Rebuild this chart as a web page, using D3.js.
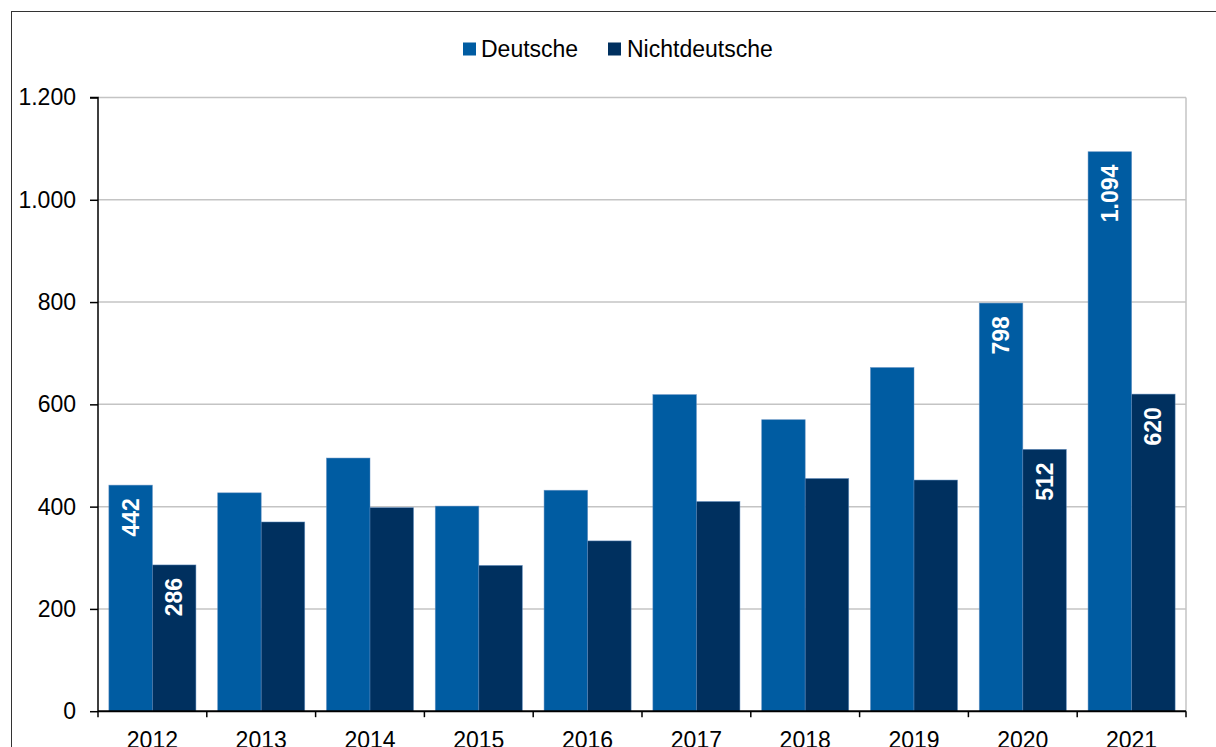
<!DOCTYPE html>
<html>
<head>
<meta charset="utf-8">
<script src="https://cdn.jsdelivr.net/npm/d3@7"></script>
<style>
  html, body { margin: 0; padding: 0; background: #ffffff; }
  svg { display: block; font-family: "Liberation Sans", Arial, sans-serif; }
</style>
</head>
<body>
<svg id="chart" width="1216" height="747"></svg>
<script>
const years = ["2012","2013","2014","2015","2016","2017","2018","2019","2020","2021"];
const seriesNames = ["Deutsche","Nichtdeutsche"];
const deutsche = [442, 427, 495, 401, 432, 619, 570, 672, 798, 1094];
const nichtdeutsche = [286, 370, 398, 285, 333, 410, 455, 452, 512, 620];
const yTicks = [0, 200, 400, 600, 800, 1000, 1200];
const labeledYears = ["2012","2020","2021"];
const colors = ["#005ca2", "#00305f"];

const de = d3.formatLocale({decimal: ",", thousands: ".", grouping: [3], currency: ["", " €"]});
const fmt = de.format(",d");

const svg = d3.select("#chart");
const plotLeft = 98, plotRight = 1186, plotTop = 97.5, plotBottom = 711.2;

// outer frame
svg.append("rect")
  .attr("x", 11.5).attr("y", 11.5)
  .attr("width", 1300).attr("height", 900)
  .attr("fill", "none").attr("stroke", "#333").attr("stroke-width", 1);

const x = d3.scaleBand().domain(years).range([plotLeft, plotRight]).paddingInner(0.2).paddingOuter(0.1);
const x1 = d3.scaleBand().domain(seriesNames).range([0, x.bandwidth()]).padding(0);
const y = d3.scaleLinear().domain([0, 1200]).range([plotBottom, plotTop]);

// gridlines
svg.append("g").selectAll("line").data(yTicks.filter(d => d > 0)).join("line")
  .attr("x1", plotLeft).attr("x2", plotRight)
  .attr("y1", d => y(d)).attr("y2", d => y(d))
  .attr("stroke", "#c4c4c4").attr("stroke-width", 1.5);
// right plot border
svg.append("line")
  .attr("x1", plotRight).attr("x2", plotRight).attr("y1", y(1200)).attr("y2", y(0))
  .attr("stroke", "#c4c4c4").attr("stroke-width", 1.5);

// bars
const rows = years.map((yr, i) => ({year: yr, values: [deutsche[i], nichtdeutsche[i]]}));
const groups = svg.append("g").selectAll("g").data(rows).join("g")
  .attr("transform", d => `translate(${x(d.year)},0)`);
groups.selectAll("rect").data(d => d.values.map((v, j) => ({year: d.year, series: seriesNames[j], v, j})))
  .join("rect")
  .attr("x", d => x1(d.series))
  .attr("y", d => y(d.v))
  .attr("width", x1.bandwidth())
  .attr("height", d => y(0) - y(d.v))
  .attr("fill", d => colors[d.j])
  .attr("stroke", "#5d8cc0").attr("stroke-width", 0.7).attr("stroke-opacity", 0.7);

// value labels
groups.selectAll("text").data(d => labeledYears.includes(d.year)
    ? d.values.map((v, j) => ({series: seriesNames[j], v})) : [])
  .join("text")
  .attr("transform", d => `translate(${x1(d.series) + x1.bandwidth() / 2 + 8},${y(d.v) + 13}) rotate(-90)`)
  .attr("text-anchor", "end")
  .attr("fill", "#ffffff")
  .attr("font-weight", "bold")
  .attr("font-size", "23px")
  .text(d => fmt(d.v));

// y axis
const yAxis = svg.append("g").attr("transform", `translate(${plotLeft},0)`)
  .call(d3.axisLeft(y).tickValues(yTicks).tickFormat(fmt).tickSize(8).tickPadding(14));
yAxis.select(".domain").attr("stroke", "#000").attr("stroke-width", 1.5).attr("d", `M-8,${y(1200)}H0V${y(0)}`);
yAxis.selectAll(".tick line").attr("stroke", "#000").attr("stroke-width", 1.5);
yAxis.selectAll(".tick text").attr("font-size", "23px").attr("fill", "#000")
  .attr("font-family", "Liberation Sans, Arial, sans-serif");

// x axis line and boundary ticks
const gap = x.step() * x.paddingInner() / 2;
const boundaries = years.map(d => x(d) - gap).concat([x(years[years.length - 1]) + x.bandwidth() + gap]);
svg.append("line").attr("x1", plotLeft).attr("x2", plotRight).attr("y1", y(0)).attr("y2", y(0))
  .attr("stroke", "#000").attr("stroke-width", 2);
svg.append("g").selectAll("line").data(boundaries).join("line")
  .attr("x1", d => d).attr("x2", d => d).attr("y1", y(0)).attr("y2", y(0) + 6)
  .attr("stroke", "#000").attr("stroke-width", 1.5);
svg.append("g").selectAll("text").data(years).join("text")
  .attr("x", d => x(d) + x.bandwidth() / 2)
  .attr("y", 748)
  .attr("text-anchor", "middle")
  .attr("font-size", "23px").attr("fill", "#000")
  .text(d => d);

// legend
const legendItems = [{name: seriesNames[0], c: colors[0], sx: 463, tx: 481},
                     {name: seriesNames[1], c: colors[1], sx: 608, tx: 627}];
const lg = svg.append("g").selectAll("g").data(legendItems).join("g");
lg.append("rect").attr("x", d => d.sx).attr("y", 42.5).attr("width", 13).attr("height", 13).attr("fill", d => d.c);
lg.append("text").attr("x", d => d.tx).attr("y", 56.5).attr("font-size", "23px").attr("fill", "#000").text(d => d.name);
</script>
</body>
</html>
